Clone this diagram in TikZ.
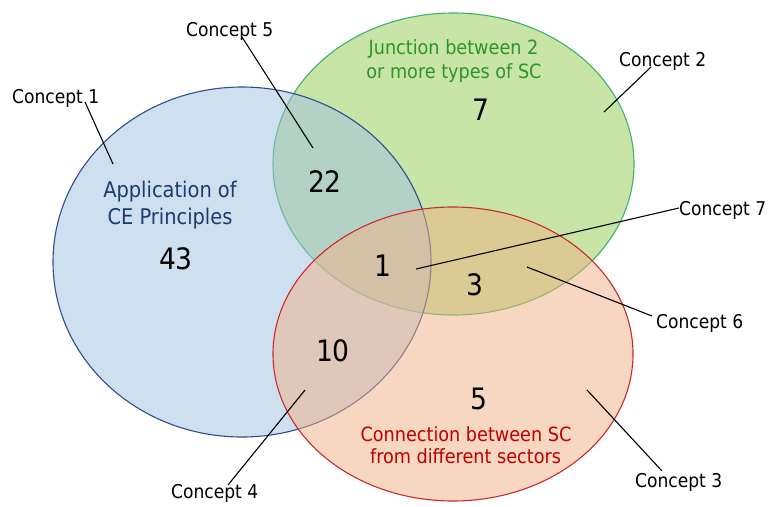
\documentclass[tikz,border=0pt]{standalone}
\usepackage{fontspec}
\setmainfont{DejaVu Sans Condensed}
\begin{document}
\begin{tikzpicture}[x=1pt,y=-1pt,
  setA/.style={fill=blueF,fill opacity=0.5,draw=blueD,line width=1.1pt},
  setB/.style={fill=greenF,fill opacity=0.5,draw=greenD,line width=1.1pt},
  setC/.style={fill=orangeF,fill opacity=0.5,draw=redD,line width=1.1pt},
  conc/.style={font=\fontsize{19}{22}\selectfont,anchor=base west,inner sep=0pt,text=black},
  catbig/.style={font=\fontsize{21.6}{24}\selectfont,anchor=base,inner sep=0pt},
  cat/.style={font=\fontsize{19.6}{24}\selectfont,anchor=base,inner sep=0pt},
  num/.style={font=\fontsize{29.5}{32}\selectfont,anchor=base,inner sep=0pt,text=black},
  lead/.style={draw=black,line width=1.1pt}]
\definecolor{blueF}{HTML}{9FC1E3}
\definecolor{blueD}{HTML}{2F4F8C}
\definecolor{greenF}{HTML}{93CB51}
\definecolor{greenD}{HTML}{3BB46E}
\definecolor{orangeF}{HTML}{F1B185}
\definecolor{redD}{HTML}{CC2A2A}
\definecolor{blueT}{HTML}{1F3A70}
\definecolor{greenT}{HTML}{2A962A}
\definecolor{redT}{HTML}{C00000}
\useasboundingbox (0,0) rectangle (768,506);
\fill[white] (0,0) rectangle (768,506);
% sets: green first, then blue, then orange
\path[setB] (453.5,164) ellipse [x radius=180.5,y radius=151];
\path[setA] (242,262) ellipse [x radius=189,y radius=175];
\path[setC] (453,354) ellipse [x radius=180,y radius=147];
% category labels
\node[catbig,text=blueT] (a1) at (170,197) {Application of};
\node[catbig,text=blueT] (a2) at (170,224) {CE Principles};
\node[cat,text=greenT] (b1) at (453.5,54) {Junction between 2};
\node[cat,text=greenT] (b2) at (454,78) {or more types of SC};
\node[cat,text=redT] (c1) at (466,441) {Connection between SC};
\node[cat,text=redT] (c2) at (465.5,463) {from different sectors};
% numbers
\node[num] (n43) at (176,269) {43};
\node[num] (n22) at (325,192) {22};
\node[num] (n7) at (481,120) {7};
\node[num] (n1) at (383,276) {1};
\node[num] (n3) at (475,295) {3};
\node[num] (n10) at (333,361) {10};
\node[num] (n5) at (479,409) {5};
% concept labels
\node[conc] (k1) at (12,103) {Concept 1};
\node[conc] (k5) at (186,36) {Concept 5};
\node[conc] (k2) at (619,66) {Concept 2};
\node[conc] (k7) at (679,215) {Concept 7};
\node[conc] (k6) at (656,328) {Concept 6};
\node[conc] (k3) at (635,487) {Concept 3};
\node[conc] (k4) at (171,498) {Concept 4};
% leader end points
\coordinate (e1a) at (85,102);  \coordinate (e1b) at (113,164);
\coordinate (e5a) at (242,37);  \coordinate (e5b) at (313,148);
\coordinate (e2a) at (651,67);  \coordinate (e2b) at (604,112);
\coordinate (e7a) at (679,208); \coordinate (e7b) at (416,269);
\coordinate (e6a) at (652,316); \coordinate (e6b) at (527,267);
\coordinate (e3a) at (662,471); \coordinate (e3b) at (587,390);
\coordinate (e4a) at (228,485); \coordinate (e4b) at (305,390);
\draw[lead] (e1a) -- (e1b);
\draw[lead] (e5a) -- (e5b);
\draw[lead] (e2a) -- (e2b);
\draw[lead] (e7a) -- (e7b);
\draw[lead] (e6a) -- (e6b);
\draw[lead] (e3a) -- (e3b);
\draw[lead] (e4a) -- (e4b);
\end{tikzpicture}
\end{document}
